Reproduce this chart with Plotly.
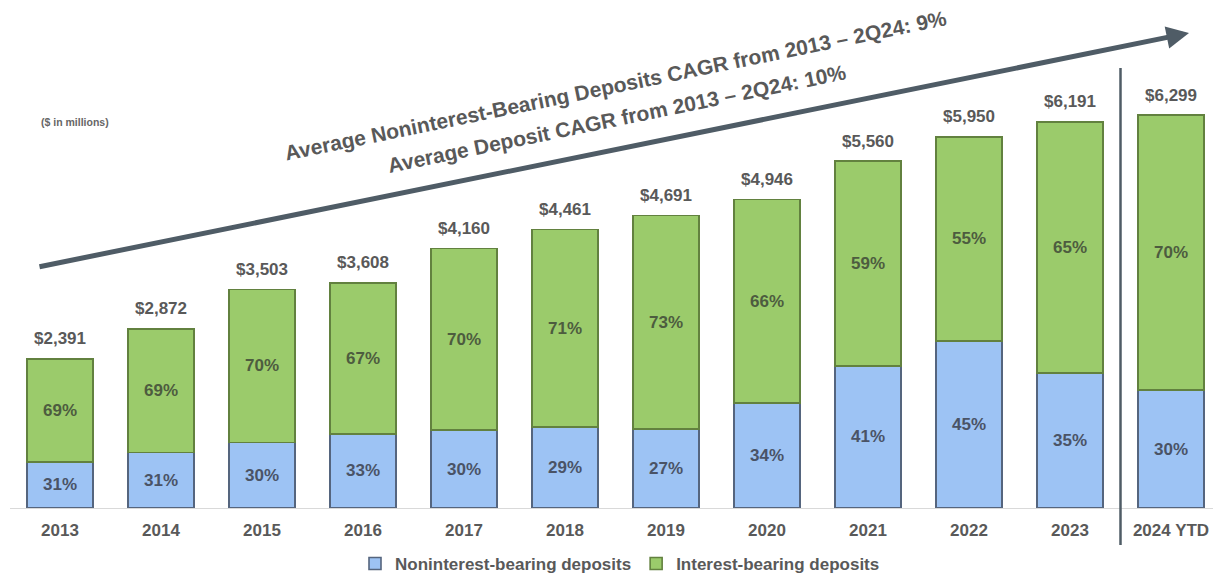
import plotly.graph_objects as go

# Year-end deposit totals ($ in millions) and the noninterest-bearing share (%)
years = ["2013", "2014", "2015", "2016", "2017", "2018", "2019", "2020",
         "2021", "2022", "2023", "2024 YTD"]
totals = [2391, 2872, 3503, 3608, 4160, 4461, 4691, 4946, 5560, 5950, 6191, 6299]
nonint_pct = [31, 31, 30, 33, 30, 29, 27, 34, 41, 45, 35, 30]
int_pct = [69, 69, 70, 67, 70, 71, 73, 66, 59, 55, 65, 70]

title_nonint = "Average Noninterest-Bearing Deposits CAGR from 2013 – 2Q24: 9%"
title_total = "Average Deposit CAGR from 2013 – 2Q24: 10%"

nonint_vals = [t * p / 100 for t, p in zip(totals, nonint_pct)]
int_vals = [t * p / 100 for t, p in zip(totals, int_pct)]
total_labels = [f"${t:,}" for t in totals]

FONT = "Liberation Sans, Arial, sans-serif"
GREY = "#595959"
SLATE = "#4f5c66"

W, H = 1213, 577
ML, MR, MT, MB = 10, 0, 0, 69
plot_w = W - ML - MR
plot_h = H - MT - MB

# category pitch of ~101 px, first bar centre ~50 px in from the plot edge
step_px = 101.0
x_lo = -50.0 / step_px
x_hi = x_lo + plot_w / step_px
y_hi = 6299 * plot_h / 393.0

x_idx = list(range(len(years)))

fig = go.Figure()

fig.add_trace(go.Bar(
    x=x_idx, y=nonint_vals, name="<b>Noninterest-bearing deposits</b>",
    marker=dict(color="#9dc3f4", line=dict(color="#55657e", width=1.6)),
    text=[f"<b>{p}%</b>" for p in nonint_pct],
    textposition="inside", insidetextanchor="middle",
    textfont=dict(family=FONT, size=17, color="#4a5366"),
    width=0.65, hoverinfo="skip",
))
fig.add_trace(go.Bar(
    x=x_idx, y=int_vals, name="<b>Interest-bearing deposits</b>",
    marker=dict(color="#9bcb6b", line=dict(color="#62813f", width=1.6)),
    text=[f"<b>{p}%</b>" for p in int_pct],
    textposition="inside", insidetextanchor="middle",
    textfont=dict(family=FONT, size=17, color="#4d5c3f"),
    width=0.65, hoverinfo="skip",
))

# total labels above each stacked bar
for xi, t, s in zip(x_idx, totals, total_labels):
    fig.add_annotation(
        x=xi, y=t, xref="x", yref="y", showarrow=False,
        text=f"<b>{s}</b>", yanchor="middle", yshift=20,
        font=dict(family=FONT, size=17, color=GREY),
    )


def px_to_x(px):
    return x_lo + (px - ML) / step_px


def px_to_y(py):
    return (MT + plot_h - py) / plot_h * y_hi


# growth arrow rising across the chart
fig.add_annotation(
    x=px_to_x(1189), y=px_to_y(33), xref="x", yref="y",
    ax=px_to_x(38), ay=px_to_y(267), axref="x", ayref="y",
    showarrow=True, arrowhead=2, arrowsize=0.9, arrowwidth=5,
    arrowcolor=SLATE, text="",
)

for txt, cx, cy in [(title_nonint, 615, 85), (title_total, 617, 118)]:
    fig.add_annotation(
        x=(cx - ML) / plot_w, y=1 - (cy - MT) / plot_h,
        xref="paper", yref="paper", showarrow=False,
        text=f"<b>{txt}</b>", textangle=-11.6,
        font=dict(family=FONT, size=21, color=GREY),
        xanchor="center", yanchor="middle",
    )

fig.add_annotation(
    x=(39 - ML) / plot_w, y=1 - (122 - MT) / plot_h,
    xref="paper", yref="paper", showarrow=False,
    text="<b>($ in millions)</b>", xanchor="left", yanchor="middle",
    font=dict(family=FONT, size=10.5, color="#666666"),
)

# divider between full years and year-to-date
fig.add_shape(
    type="line", xref="x", yref="paper",
    x0=10.5, x1=10.5,
    y0=1 - (68 - MT) / plot_h, y1=1 - (545 - MT) / plot_h,
    line=dict(color=SLATE, width=2.5),
)

fig.update_layout(
    width=W, height=H,
    margin=dict(l=ML, r=MR, t=MT, b=MB, autoexpand=False),
    barmode="stack", bargap=0.35,
    plot_bgcolor="white", paper_bgcolor="white",
    font=dict(family=FONT, color=GREY),
    showlegend=True,
    legend=dict(
        orientation="h", x=(620 - ML) / plot_w, xanchor="center",
        y=-(564 - MT - plot_h) / plot_h, yanchor="middle",
        font=dict(family=FONT, size=17, color=GREY),
        itemwidth=30, traceorder="normal",
        bgcolor="rgba(0,0,0,0)",
    ),
    xaxis=dict(
        range=[x_lo, x_hi], tickmode="array", tickvals=x_idx,
        ticktext=[f"<b>{y}</b>" for y in years],
        tickfont=dict(family=FONT, size=17, color=GREY),
        ticklabelstandoff=7,
        showgrid=False, zeroline=False,
        showline=True, linecolor="#d9d9d9", linewidth=1,
        ticks="", fixedrange=True,
    ),
    yaxis=dict(
        range=[0, y_hi], visible=False, showgrid=False, fixedrange=True,
    ),
)

fig.write_html("out.html")
